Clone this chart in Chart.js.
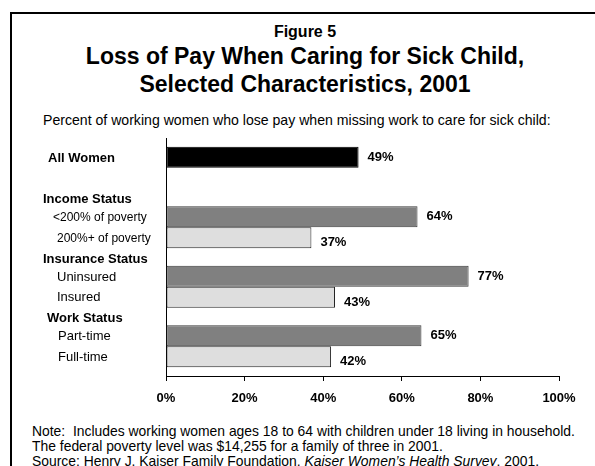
<!DOCTYPE html>
<html>
<head>
<meta charset="utf-8">
<script src="https://cdn.jsdelivr.net/npm/chart.js@4"></script>
<style>
  html, body { margin: 0; padding: 0; background: #fff; }
  html { overflow: hidden; }
  body { width: 595px; height: 466px; position: relative; overflow: hidden;
         font-family: "Liberation Sans", Arial, sans-serif; color: #000; }
  .frame { position: absolute; left: 10px; top: 12px; width: 585px; height: 454px;
           border-left: 2px solid #000; border-top: 2px solid #000; box-sizing: border-box; }
  .t { position: absolute; line-height: 1; white-space: nowrap; }
  .c { left: 0; width: 610px; text-align: center; }
  #chart { position: absolute; left: 0; top: 0; }
</style>
</head>
<body>
<div class="frame"></div>
<div class="t c" style="top:24px;font-size:16px;font-weight:bold;">Figure 5</div>
<div class="t c" style="top:44.5px;font-size:23px;font-weight:bold;">Loss of Pay When Caring for Sick Child,</div>
<div class="t c" style="top:72.5px;font-size:23px;font-weight:bold;">Selected Characteristics, 2001</div>
<div class="t" style="left:43px;top:113px;font-size:14.1px;">Percent of working women who lose pay when missing work to care for sick child:</div>
<div class="t" style="left:32px;top:424.5px;font-size:13.9px;">Note:&nbsp; Includes working women ages 18 to 64 with children under 18 living in household.</div>
<div class="t" style="left:32px;top:439.5px;font-size:13.9px;">The federal poverty level was $14,255 for a family of three in 2001.</div>
<div class="t" style="left:32px;top:454.5px;font-size:13.9px;">Source: Henry J. Kaiser Family Foundation, <i>Kaiser Women’s Health Survey</i>, 2001.</div>
<canvas id="chart" width="595" height="466"></canvas>
<script>
// groups down the y axis; each holds up to two bars (upper / lower)
const groups = ['All Women', 'Income Status', 'Insurance Status', 'Work Status'];
const groupHeaders = ['', 'Income Status', 'Insurance Status', 'Work Status'];
const upperLabels = ['All Women', '<200% of poverty', 'Uninsured', 'Part-time'];
const lowerLabels = [null, '200%+ of poverty', 'Insured', 'Full-time'];
const upperValues = [49, 64, 77, 65];
const lowerValues = [null, 37, 43, 42];
const xTicks = [0, 20, 40, 60, 80, 100];

const FONT = '"Liberation Sans", Arial, sans-serif';

// row text left edges and sizes
const rowStyle = {
  header: { x: [0, 43, 43, 47], size: 13, weight: 'bold' },
  upper:  { x: [48, 53, 57, 58], size: [13, 12, 13, 13], weight: ['bold', 'normal', 'normal', 'normal'] },
  lower:  { x: [0, 57, 57, 58], size: [0, 12, 13, 13] }
};

const rowLabels = {
  id: 'rowLabels',
  afterDatasetsDraw(chart) {
    const ctx = chart.ctx;
    const up = chart.getDatasetMeta(0).data;
    const lo = chart.getDatasetMeta(1).data;
    ctx.save();
    ctx.fillStyle = '#000';
    ctx.textBaseline = 'middle';
    ctx.textAlign = 'left';
    groups.forEach((g, i) => {
      const top = up[i];
      if (groupHeaders[i]) {
        ctx.font = 'bold 13px ' + FONT;
        ctx.fillText(groupHeaders[i], rowStyle.header.x[i], top.y - top.height / 2 - 6.5);
      }
      ctx.font = rowStyle.upper.weight[i] + ' ' + rowStyle.upper.size[i] + 'px ' + FONT;
      ctx.fillText(upperLabels[i], rowStyle.upper.x[i], top.y + 1);
      if (lowerLabels[i]) {
        ctx.font = rowStyle.lower.size[i] + 'px ' + FONT;
        ctx.fillText(lowerLabels[i], rowStyle.lower.x[i], lo[i].y + 0.5);
      }
    });

    // value labels to the right of each bar
    ctx.font = 'bold 13px ' + FONT;
    [up, lo].forEach((bars, d) => {
      const vals = d === 0 ? upperValues : lowerValues;
      bars.forEach((b, i) => {
        if (vals[i] == null) return;
        ctx.fillText(vals[i] + '%', b.x + 9, b.y + (d === 0 ? 0 : 5));
      });
    });
    ctx.restore();
  }
};

new Chart(document.getElementById('chart'), {
  type: 'bar',
  data: {
    labels: groups,
    datasets: [
      {
        data: upperValues,
        backgroundColor: ['#000000', '#808080', '#808080', '#808080'],
        borderColor: ['#000000', '#3a3a3a', '#3a3a3a', '#3a3a3a'],
        borderWidth: 1,
        borderSkipped: false
      },
      {
        data: lowerValues,
        backgroundColor: '#dedede',
        borderColor: '#222222',
        borderWidth: 1,
        borderSkipped: false
      }
    ]
  },
  options: {
    indexAxis: 'y',
    responsive: false,
    animation: false,
    devicePixelRatio: 1,
    categoryPercentage: 0.706,
    barPercentage: 1,
    layout: { padding: { left: 166, top: 138, right: 36, bottom: 50 } },
    plugins: {
      legend: { display: false },
      tooltip: { enabled: false },
      title: { display: false }
    },
    scales: {
      x: {
        min: 0,
        max: 100,
        afterBuildTicks(s) { s.ticks = xTicks.map(v => ({ value: v })); },
        afterFit(s) { s.height = 40; },
        ticks: {
          callback: v => v + '%',
          color: '#000',
          padding: 10,
          maxRotation: 0,
          font: { family: FONT, size: 13, weight: 'bold' }
        },
        grid: { drawOnChartArea: false, drawTicks: true, tickLength: 5, color: '#000' },
        border: { display: true, color: '#000', width: 1 }
      },
      y: {
        afterFit(s) { s.width = 0; },
        ticks: { display: false },
        grid: { display: false, drawTicks: false },
        border: { display: true, color: '#000', width: 1 }
      }
    }
  },
  plugins: [rowLabels]
});
</script>
</body>
</html>
